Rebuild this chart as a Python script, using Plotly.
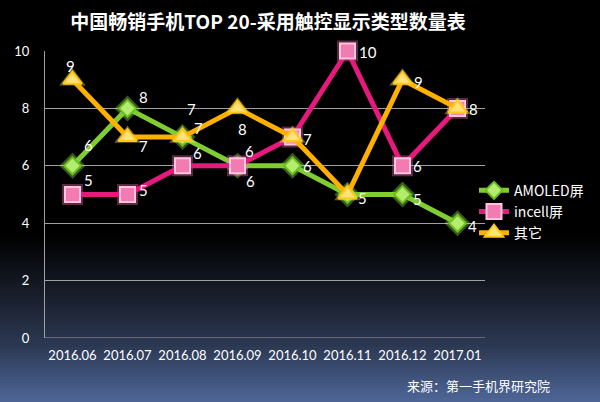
import plotly.graph_objects as go

months = ["2016.06", "2016.07", "2016.08", "2016.09", "2016.10", "2016.11", "2016.12", "2017.01"]
amoled = [6, 8, 7, 6, 6, 5, 5, 4]
incell = [5, 5, 6, 6, 7, 10, 6, 8]
other = [9, 7, 7, 8, 7, 5, 9, 8]
series_names = ["AMOLED屏", "incell屏", "其它"]
y_ticks = [0, 2, 4, 6, 8, 10]

# label pixel offsets per point (style only); None = label not shown (shared with another series)
amoled_off = [(16, -21), (16, -11), (9, -28), (13, 15), (15, 0), None, (15, 4), (15, 3)]
incell_off = [(16, -15), (16, -5), (15, -13), (12, -15), (15, 2), (20, 1), (15, 0), (16, 1)]
other_off = [(-2, -14), (16, 9), (16, -9), (5, 21), None, (15, 3), (16, 2), None]

FONT = "Lato, 'Noto Sans', 'Noto Sans CJK SC', sans-serif"
CJK = "'Noto Sans CJK SC', sans-serif"

fig = go.Figure()

styles = [
    dict(line="#7fcc33", fill="#b4ec70", border="#6cc020", symbol="diamond", size=13,
         glow="rgba(170,255,90,0.35)", gsize=20),
    dict(line="#e8197d", fill="#f27bb2", border="#ffc4e0", symbol="square", size=15,
         glow="rgba(255,120,190,0.35)", gsize=21),
    dict(line="#ffb000", fill="#ffe27a", border="#ffc820", symbol="triangle-up", size=16,
         glow="rgba(255,240,90,0.40)", gsize=23),
]
data = [amoled, incell, other]
offs = [amoled_off, incell_off, other_off]

annotations = []
for name, vals, st, off in zip(series_names, data, styles, offs):
    fig.add_trace(go.Scatter(
        x=months, y=vals, mode="markers", showlegend=False, hoverinfo="skip",
        marker=dict(symbol=st["symbol"], size=st["gsize"], color=st["glow"], line=dict(width=0)),
        cliponaxis=False,
    ))
    fig.add_trace(go.Scatter(
        x=months, y=vals, mode="lines+markers", name=name,
        line=dict(color=st["line"], width=5),
        marker=dict(symbol=st["symbol"], size=st["size"], color=st["fill"],
                    line=dict(color=st["border"], width=2)),
        cliponaxis=False,
    ))
    for i, (v, o) in enumerate(zip(vals, off)):
        if o is None:
            continue
        # category axis: use the category's index as position
        annotations.append(dict(x=i, y=v, xref="x", yref="y", text=str(v), showarrow=False,
                                xanchor="center", yanchor="middle", xshift=o[0], yshift=-o[1],
                                font=dict(color="white", size=15, family=FONT)))

# gradient background (style only)
def lerp(a, b, t):
    return tuple(int(round(a[i] + (b[i] - a[i]) * t)) for i in range(3))

stops = [(0, (0, 0, 0)), (235, (0, 0, 0)), (300, (26, 32, 46)), (345, (44, 56, 82)), (402, (78, 102, 152))]
shapes = []
H_PLOT_TOP, H_PLOT_BOT = 51, 338
ph = H_PLOT_BOT - H_PLOT_TOP
step = 3
for py in range(230, 402, step):
    mid = py + step / 2
    for j in range(len(stops) - 1):
        if stops[j][0] <= mid <= stops[j + 1][0]:
            t = (mid - stops[j][0]) / (stops[j + 1][0] - stops[j][0])
            c = lerp(stops[j][1], stops[j + 1][1], t)
            break
    y0 = (H_PLOT_BOT - py) / ph
    y1 = (H_PLOT_BOT - (py + step + 1)) / ph
    shapes.append(dict(type="rect", xref="paper", yref="paper", x0=-1, x1=2, y0=y0, y1=y1,
                       fillcolor="rgb(%d,%d,%d)" % c, line=dict(width=0), layer="below"))

annotations.append(dict(text="来源：第一手机界研究院", xref="paper", yref="paper",
                        x=(478 - 45) / 440, y=(338 - 385) / 287, xanchor="center", yanchor="middle",
                        showarrow=False, font=dict(color="white", size=13, family=CJK)))

fig.update_layout(
    width=600, height=402,
    margin=dict(l=45, r=115, t=51, b=64, autoexpand=False),
    paper_bgcolor="black", plot_bgcolor="rgba(0,0,0,0)",
    shapes=shapes,
    title=dict(text="<b>中国畅销手机TOP 20-采用触控显示类型数量表</b>", x=268 / 600, xanchor="center",
               y=1 - 22 / 402, yanchor="middle",
               font=dict(color="white", size=19, family=CJK)),
    xaxis=dict(type="category", showgrid=False, showline=False, zeroline=False, ticks="",
               tickangle=0, automargin=False,
               tickfont=dict(color="white", size=13, family=FONT), ticklabelstandoff=8,
               range=[-0.5, 7.5]),
    yaxis=dict(range=[0, 10], tickvals=y_ticks, showgrid=True, gridcolor="#a0a0a0", gridwidth=1,
               showline=True, linecolor="#a0a0a0", linewidth=1, zeroline=False, ticks="",
               automargin=False,
               tickfont=dict(color="white", size=13, family=FONT), ticklabelstandoff=12),
    legend=dict(x=0.975, y=0.44, xanchor="left", yanchor="middle", bgcolor="rgba(0,0,0,0)",
                font=dict(color="white", size=14, family=CJK), itemwidth=30),
    showlegend=True,
    annotations=annotations,
)
fig.add_shape(type="line", xref="paper", yref="y", x0=0, x1=1, y0=0, y1=0,
              line=dict(color="#a0a0a0", width=1))

fig.write_html("out.html")
